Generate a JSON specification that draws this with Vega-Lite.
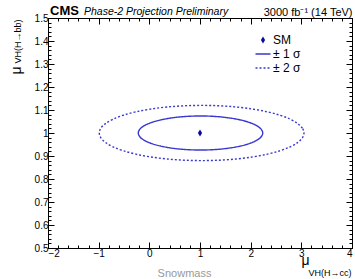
{
  "$schema": "https://vega.github.io/schema/vega-lite/v6.json",
  "width": 304,
  "height": 230,
  "autosize": {"type": "none"},
  "padding": {"left": 48, "top": 18, "right": 3, "bottom": 31},
  "background": "white",
  "config": {
    "font": "Liberation Sans",
    "view": {"stroke": "#000000", "strokeWidth": 1},
    "axis": {"grid": false, "domain": false, "tickColor": "#000000", "labelColor": "#000000", "titleColor": "#000000", "labelFont": "Liberation Sans", "titleFont": "Liberation Sans", "labelFontSize": 10, "tickWidth": 1}
  },
  "datasets": {
    "ell": [
      {"s": "± 1 σ", "k": 0, "x": 2.238, "y": 1},
      {"s": "± 1 σ", "k": 1, "x": 2.219, "y": 1.0128},
      {"s": "± 1 σ", "k": 2, "x": 2.164, "y": 1.0253},
      {"s": "± 1 σ", "k": 3, "x": 2.074, "y": 1.037},
      {"s": "± 1 σ", "k": 4, "x": 1.951, "y": 1.0476},
      {"s": "± 1 σ", "k": 5, "x": 1.799, "y": 1.0567},
      {"s": "± 1 σ", "k": 6, "x": 1.624, "y": 1.0641},
      {"s": "± 1 σ", "k": 7, "x": 1.43, "y": 1.0695},
      {"s": "± 1 σ", "k": 8, "x": 1.223, "y": 1.0729},
      {"s": "± 1 σ", "k": 9, "x": 1.01, "y": 1.074},
      {"s": "± 1 σ", "k": 10, "x": 0.797, "y": 1.0729},
      {"s": "± 1 σ", "k": 11, "x": 0.59, "y": 1.0695},
      {"s": "± 1 σ", "k": 12, "x": 0.396, "y": 1.0641},
      {"s": "± 1 σ", "k": 13, "x": 0.221, "y": 1.0567},
      {"s": "± 1 σ", "k": 14, "x": 0.069, "y": 1.0476},
      {"s": "± 1 σ", "k": 15, "x": -0.054, "y": 1.037},
      {"s": "± 1 σ", "k": 16, "x": -0.144, "y": 1.0253},
      {"s": "± 1 σ", "k": 17, "x": -0.199, "y": 1.0128},
      {"s": "± 1 σ", "k": 18, "x": -0.218, "y": 1},
      {"s": "± 1 σ", "k": 19, "x": -0.199, "y": 0.9872},
      {"s": "± 1 σ", "k": 20, "x": -0.144, "y": 0.9747},
      {"s": "± 1 σ", "k": 21, "x": -0.054, "y": 0.963},
      {"s": "± 1 σ", "k": 22, "x": 0.069, "y": 0.9524},
      {"s": "± 1 σ", "k": 23, "x": 0.221, "y": 0.9433},
      {"s": "± 1 σ", "k": 24, "x": 0.396, "y": 0.9359},
      {"s": "± 1 σ", "k": 25, "x": 0.59, "y": 0.9305},
      {"s": "± 1 σ", "k": 26, "x": 0.797, "y": 0.9271},
      {"s": "± 1 σ", "k": 27, "x": 1.01, "y": 0.926},
      {"s": "± 1 σ", "k": 28, "x": 1.223, "y": 0.9271},
      {"s": "± 1 σ", "k": 29, "x": 1.43, "y": 0.9305},
      {"s": "± 1 σ", "k": 30, "x": 1.624, "y": 0.9359},
      {"s": "± 1 σ", "k": 31, "x": 1.799, "y": 0.9433},
      {"s": "± 1 σ", "k": 32, "x": 1.951, "y": 0.9524},
      {"s": "± 1 σ", "k": 33, "x": 2.074, "y": 0.963},
      {"s": "± 1 σ", "k": 34, "x": 2.164, "y": 0.9747},
      {"s": "± 1 σ", "k": 35, "x": 2.219, "y": 0.9872},
      {"s": "± 2 σ", "k": 0, "x": 3.052, "y": 1},
      {"s": "± 2 σ", "k": 1, "x": 3.021, "y": 1.0208},
      {"s": "± 2 σ", "k": 2, "x": 2.93, "y": 1.041},
      {"s": "± 2 σ", "k": 3, "x": 2.781, "y": 1.06},
      {"s": "± 2 σ", "k": 4, "x": 2.579, "y": 1.0771},
      {"s": "± 2 σ", "k": 5, "x": 2.331, "y": 1.0919},
      {"s": "± 2 σ", "k": 6, "x": 2.042, "y": 1.1039},
      {"s": "± 2 σ", "k": 7, "x": 1.723, "y": 1.1128},
      {"s": "± 2 σ", "k": 8, "x": 1.383, "y": 1.1182},
      {"s": "± 2 σ", "k": 9, "x": 1.032, "y": 1.12},
      {"s": "± 2 σ", "k": 10, "x": 0.681, "y": 1.1182},
      {"s": "± 2 σ", "k": 11, "x": 0.341, "y": 1.1128},
      {"s": "± 2 σ", "k": 12, "x": 0.022, "y": 1.1039},
      {"s": "± 2 σ", "k": 13, "x": -0.267, "y": 1.0919},
      {"s": "± 2 σ", "k": 14, "x": -0.515, "y": 1.0771},
      {"s": "± 2 σ", "k": 15, "x": -0.717, "y": 1.06},
      {"s": "± 2 σ", "k": 16, "x": -0.866, "y": 1.041},
      {"s": "± 2 σ", "k": 17, "x": -0.957, "y": 1.0208},
      {"s": "± 2 σ", "k": 18, "x": -0.988, "y": 1},
      {"s": "± 2 σ", "k": 19, "x": -0.957, "y": 0.9792},
      {"s": "± 2 σ", "k": 20, "x": -0.866, "y": 0.959},
      {"s": "± 2 σ", "k": 21, "x": -0.717, "y": 0.94},
      {"s": "± 2 σ", "k": 22, "x": -0.515, "y": 0.9229},
      {"s": "± 2 σ", "k": 23, "x": -0.267, "y": 0.9081},
      {"s": "± 2 σ", "k": 24, "x": 0.022, "y": 0.8961},
      {"s": "± 2 σ", "k": 25, "x": 0.341, "y": 0.8872},
      {"s": "± 2 σ", "k": 26, "x": 0.681, "y": 0.8818},
      {"s": "± 2 σ", "k": 27, "x": 1.032, "y": 0.88},
      {"s": "± 2 σ", "k": 28, "x": 1.383, "y": 0.8818},
      {"s": "± 2 σ", "k": 29, "x": 1.723, "y": 0.8872},
      {"s": "± 2 σ", "k": 30, "x": 2.042, "y": 0.8961},
      {"s": "± 2 σ", "k": 31, "x": 2.331, "y": 0.9081},
      {"s": "± 2 σ", "k": 32, "x": 2.579, "y": 0.9229},
      {"s": "± 2 σ", "k": 33, "x": 2.781, "y": 0.94},
      {"s": "± 2 σ", "k": 34, "x": 2.93, "y": 0.959},
      {"s": "± 2 σ", "k": 35, "x": 3.021, "y": 0.9792}
    ],
    "sm": [{"s": "SM", "x": 1, "y": 1}],
    "cms": [{"t": "CMS"}],
    "ph": [{"t": "Phase-2 Projection Preliminary"}]
  },
  "layer": [
    {
      "data": {"name": "ell"},
      "mark": {"type": "line", "interpolate": "cardinal-closed", "strokeWidth": 1.4},
      "encoding": {
        "x": {"field": "x", "type": "quantitative", "scale": {"domain": [-2, 4], "nice": false, "zero": false},
          "axis": {"orient": "bottom", "values": [-2, -1, 0, 1, 2, 3, 4], "tickSize": -6, "labelPadding": 6, "labelExpr": "format(datum.value, 'd')",
            "title": "μ", "titleFontSize": 14, "titleFontWeight": "normal", "titleAngle": 0, "titleX": 253, "titleY": 16, "titleAlign": "left", "titleBaseline": "alphabetic"}},
        "y": {"field": "y", "type": "quantitative", "scale": {"domain": [0.5, 1.5], "nice": false, "zero": false},
          "axis": {"orient": "left", "values": [0.5, 0.6, 0.7, 0.8, 0.9, 1, 1.1, 1.2, 1.3, 1.4, 1.5], "tickSize": -6, "labelPadding": 6, "labelExpr": "format(datum.value, '.1~f')",
            "title": "μ", "titleFontSize": 14, "titleFontWeight": "normal", "titleAngle": 270, "titleX": -28, "titleY": 52, "titleAlign": "center", "titleBaseline": "alphabetic"}},
        "order": {"field": "k", "type": "quantitative"},
        "color": {"field": "s", "type": "nominal", "scale": {"domain": ["SM", "± 1 σ", "± 2 σ"], "range": ["#0a0aa0", "#3838d0", "#3838d0"]},
          "legend": {"orient": "none", "legendX": 209, "legendY": 16, "title": null, "labelFontSize": 12, "labelFont": "Liberation Sans", "labelColor": "#000000", "rowPadding": 2, "gridAlign": "all", "labelOffset": 4, "symbolSize": 225, "symbolStrokeWidth": 1.5,
            "encode": {"symbols": {"update": {
              "shape": {"scale": "shape", "field": "value"},
              "strokeDash": {"scale": "strokeDash", "field": "value"},
              "stroke": {"scale": "color", "field": "value"},
              "fill": {"scale": "color", "field": "value"},
              "size": {"signal": "datum.value === 'SM' ? 49 : 225"},
              "strokeWidth": {"signal": "datum.value === 'SM' ? 0 : 1.5"}
            }}}}},
        "strokeDash": {"field": "s", "type": "nominal", "scale": {"domain": ["SM", "± 1 σ", "± 2 σ"], "range": [[1, 0], [1, 0], [2, 2]]}, "legend": null}
      }
    },
    {
      "data": {"name": "sm"},
      "mark": {"type": "point", "filled": true, "opacity": 1, "size": 49},
      "encoding": {
        "x": {"field": "x", "type": "quantitative", "scale": {"domain": [-2, 4], "nice": false, "zero": false},
          "axis": {"orient": "bottom", "values": [-2, -1.8, -1.6, -1.4, -1.2, -1, -0.8, -0.6, -0.4, -0.2, 0, 0.2, 0.4, 0.6, 0.8, 1, 1.2, 1.4, 1.6, 1.8, 2, 2.2, 2.4, 2.6, 2.8, 3, 3.2, 3.4, 3.6, 3.8, 4], "tickSize": -3, "labels": false,
            "title": "VH(H→cc)", "titleFontSize": 9, "titleFontWeight": "normal", "titleAngle": 0, "titleX": 260, "titleY": 27, "titleAlign": "left", "titleBaseline": "alphabetic"}},
        "y": {"field": "y", "type": "quantitative", "scale": {"domain": [0.5, 1.5], "nice": false, "zero": false},
          "axis": {"orient": "left", "values": [0.5, 0.52, 0.54, 0.56, 0.58, 0.6, 0.62, 0.64, 0.66, 0.68, 0.7, 0.72, 0.74, 0.76, 0.78, 0.8, 0.82, 0.84, 0.86, 0.88, 0.9, 0.92, 0.94, 0.96, 0.98, 1, 1.02, 1.04, 1.06, 1.08, 1.1, 1.12, 1.14, 1.16, 1.18, 1.2, 1.22, 1.24, 1.26, 1.28, 1.3, 1.32, 1.34, 1.36, 1.38, 1.4, 1.42, 1.44, 1.46, 1.48, 1.5], "tickSize": -3, "labels": false,
            "title": "VH(H→bb)", "titleFontSize": 9, "titleFontWeight": "normal", "titleAngle": 270, "titleX": -28, "titleY": 23, "titleAlign": "center", "titleBaseline": "alphabetic"}},
        "color": {"field": "s", "type": "nominal", "scale": {"domain": ["SM", "± 1 σ", "± 2 σ"], "range": ["#0a0aa0", "#3838d0", "#3838d0"]}},
        "shape": {"field": "s", "type": "nominal", "scale": {"domain": ["SM", "± 1 σ", "± 2 σ"], "range": ["M0,-1L0.6,0L0,1L-0.6,0Z", "stroke", "stroke"]}, "legend": null}
      }
    },
    {
      "data": {"name": "cms"},
      "mark": {"type": "text", "align": "left", "baseline": "alphabetic", "dx": 2, "dy": -3, "fontSize": 13, "fontWeight": "bold", "color": "#000000"},
      "encoding": {
        "text": {"field": "t"},
        "x": {"datum": -2, "type": "quantitative", "scale": {"domain": [-2, 4], "nice": false, "zero": false},
          "axis": {"orient": "top", "values": [-2, -1, 0, 1, 2, 3, 4], "tickSize": -6, "labels": false,
            "title": "3000 fb⁻¹ (14 TeV)", "titleFontSize": 11, "titleFontWeight": "normal", "titleAngle": 0, "titleX": 304, "titleY": -3, "titleAlign": "right", "titleBaseline": "alphabetic"}},
        "y": {"datum": 1.5, "type": "quantitative", "scale": {"domain": [0.5, 1.5], "nice": false, "zero": false},
          "axis": {"orient": "right", "values": [0.5, 0.6, 0.7, 0.8, 0.9, 1, 1.1, 1.2, 1.3, 1.4, 1.5], "tickSize": -6, "labels": false,
            "title": "Snowmass", "titleColor": "#999999", "titleFontSize": 11, "titleFontWeight": "normal", "titleAngle": 0, "titleX": -168, "titleY": 258, "titleAlign": "center", "titleBaseline": "alphabetic"}}
      }
    },
    {
      "data": {"name": "ph"},
      "mark": {"type": "text", "align": "left", "baseline": "alphabetic", "dx": 36, "dy": -3, "fontSize": 10.5, "fontStyle": "italic", "color": "#000000"},
      "encoding": {
        "text": {"field": "t"},
        "x": {"datum": -2, "type": "quantitative", "scale": {"domain": [-2, 4], "nice": false, "zero": false},
          "axis": {"orient": "top", "values": [-2, -1.8, -1.6, -1.4, -1.2, -1, -0.8, -0.6, -0.4, -0.2, 0, 0.2, 0.4, 0.6, 0.8, 1, 1.2, 1.4, 1.6, 1.8, 2, 2.2, 2.4, 2.6, 2.8, 3, 3.2, 3.4, 3.6, 3.8, 4], "tickSize": -3, "labels": false, "title": null}},
        "y": {"datum": 1.5, "type": "quantitative", "scale": {"domain": [0.5, 1.5], "nice": false, "zero": false},
          "axis": {"orient": "right", "values": [0.5, 0.52, 0.54, 0.56, 0.58, 0.6, 0.62, 0.64, 0.66, 0.68, 0.7, 0.72, 0.74, 0.76, 0.78, 0.8, 0.82, 0.84, 0.86, 0.88, 0.9, 0.92, 0.94, 0.96, 0.98, 1, 1.02, 1.04, 1.06, 1.08, 1.1, 1.12, 1.14, 1.16, 1.18, 1.2, 1.22, 1.24, 1.26, 1.28, 1.3, 1.32, 1.34, 1.36, 1.38, 1.4, 1.42, 1.44, 1.46, 1.48, 1.5], "tickSize": -3, "labels": false, "title": null}}
      }
    }
  ],
  "resolve": {"axis": {"x": "independent", "y": "independent"}}
}
